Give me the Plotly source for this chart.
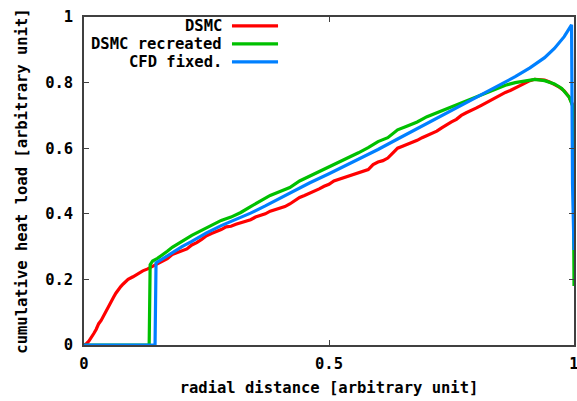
import plotly.graph_objects as go

# ---- data ----
red_x = [0.000, 0.005, 0.010, 0.015, 0.020, 0.025, 0.030, 0.035, 0.040, 0.045,
         0.050, 0.055, 0.060, 0.065, 0.070, 0.075, 0.080, 0.090, 0.100, 0.110,
         0.120, 0.130, 0.140, 0.150, 0.160, 0.170, 0.180, 0.190, 0.200, 0.210,
         0.220, 0.230, 0.240, 0.250, 0.260, 0.270, 0.280, 0.290, 0.300, 0.310,
         0.320, 0.330, 0.340, 0.350, 0.360, 0.370, 0.380, 0.390, 0.400, 0.410,
         0.420, 0.430, 0.440, 0.450, 0.460, 0.470, 0.480, 0.490, 0.500, 0.510,
         0.520, 0.530, 0.540, 0.550, 0.560, 0.570, 0.580, 0.590, 0.600, 0.610,
         0.620, 0.630, 0.640, 0.650, 0.660, 0.670, 0.680, 0.690, 0.700, 0.710,
         0.720, 0.730, 0.740, 0.750, 0.760, 0.770, 0.780, 0.790, 0.800, 0.810,
         0.820, 0.830, 0.840, 0.850, 0.860, 0.870, 0.880, 0.890, 0.900, 0.910,
         0.920, 0.930, 0.940, 0.950, 0.960, 0.970, 0.980, 0.990, 0.998]
red_y = [0.000, 0.004, 0.012, 0.022, 0.035, 0.048, 0.065, 0.075, 0.090, 0.102,
         0.118, 0.130, 0.145, 0.158, 0.170, 0.178, 0.186, 0.200, 0.208, 0.218,
         0.226, 0.232, 0.240, 0.247, 0.254, 0.263, 0.276, 0.282, 0.288, 0.293,
         0.305, 0.312, 0.322, 0.333, 0.340, 0.345, 0.352, 0.360, 0.362, 0.368,
         0.372, 0.378, 0.382, 0.390, 0.394, 0.400, 0.408, 0.412, 0.418, 0.422,
         0.430, 0.440, 0.450, 0.456, 0.462, 0.470, 0.476, 0.484, 0.490, 0.500,
         0.505, 0.510, 0.514, 0.520, 0.524, 0.530, 0.535, 0.550, 0.558, 0.562,
         0.570, 0.585, 0.600, 0.606, 0.612, 0.616, 0.624, 0.632, 0.638, 0.646,
         0.652, 0.662, 0.672, 0.680, 0.688, 0.700, 0.708, 0.714, 0.722, 0.730,
         0.738, 0.748, 0.755, 0.762, 0.770, 0.776, 0.784, 0.792, 0.800, 0.806,
         0.810, 0.810, 0.808, 0.802, 0.795, 0.786, 0.775, 0.756, 0.730]

green_x = [0.000, 0.133, 0.135, 0.14, 0.15, 0.16, 0.17, 0.18, 0.19, 0.20, 0.22,
           0.24, 0.26, 0.28, 0.30, 0.32, 0.34, 0.36, 0.38, 0.40, 0.42, 0.44,
           0.46, 0.48, 0.50, 0.52, 0.54, 0.56, 0.58, 0.60, 0.62, 0.64, 0.66,
           0.68, 0.70, 0.72, 0.74, 0.76, 0.78, 0.80, 0.82, 0.84, 0.86, 0.88,
           0.90, 0.92, 0.94, 0.96, 0.975, 0.99, 0.998, 1.0]
green_y = [0.000, 0.000, 0.245, 0.256, 0.264, 0.274, 0.286, 0.298, 0.306, 0.316, 0.334,
           0.350, 0.366, 0.380, 0.390, 0.404, 0.422, 0.440, 0.456, 0.468, 0.480, 0.500,
           0.514, 0.530, 0.542, 0.556, 0.570, 0.586, 0.602, 0.620, 0.632, 0.656, 0.668,
           0.680, 0.696, 0.708, 0.722, 0.734, 0.746, 0.756, 0.768, 0.782, 0.792, 0.800,
           0.806, 0.810, 0.806, 0.796, 0.782, 0.756, 0.726, 0.180]

blue_x = [0.000, 0.145, 0.147, 0.16, 0.18, 0.20, 0.22, 0.25, 0.28, 0.31, 0.34,
          0.37, 0.40, 0.43, 0.46, 0.50, 0.53, 0.56, 0.60, 0.64, 0.68, 0.72,
          0.76, 0.80, 0.84, 0.88, 0.91, 0.94, 0.96, 0.98, 0.995, 0.997, 1.0]
blue_y = [0.000, 0.000, 0.250, 0.262, 0.282, 0.300, 0.316, 0.342, 0.364, 0.382, 0.402,
          0.424, 0.448, 0.472, 0.494, 0.522, 0.544, 0.566, 0.596, 0.628, 0.660, 0.690,
          0.724, 0.756, 0.786, 0.818, 0.845, 0.876, 0.904, 0.940, 0.976, 0.490, 0.290]

series_names = ["DSMC", "DSMC recreated", "CFD fixed."]
series_colors = ["#ff0000", "#00c000", "#0080ff"]
x_ticks = [0, 0.5, 1]
x_tick_labels = ["0", "0.5", "1"]
y_ticks = [0, 0.2, 0.4, 0.6, 0.8, 1]
y_tick_labels = ["0", "0.2", "0.4", "0.6", "0.8", "1"]

FONT = "DejaVu Sans Mono"
fsize = 15.5
border = "#404040"

fig = go.Figure()
for xs, ys, name, col in zip([red_x, green_x, blue_x], [red_y, green_y, blue_y],
                             series_names, series_colors):
    fig.add_trace(go.Scatter(x=xs, y=ys, mode="lines", name=name,
                             line=dict(color=col, width=3.2), showlegend=False))

# manual gnuplot-style legend (text right-aligned, sample to the right)
legend_y = [0.973, 0.918, 0.863]
annotations = []
shapes = []
for name, col, ly in zip(series_names, series_colors, legend_y):
    annotations.append(dict(x=0.286, y=ly, xref="paper", yref="paper",
                            text="<b>" + name + "</b>", showarrow=False,
                            xanchor="right", yanchor="middle",
                            font=dict(family=FONT, size=fsize, color="black")))
    shapes.append(dict(type="line", xref="paper", yref="paper",
                       x0=0.302, x1=0.396, y0=ly, y1=ly,
                       line=dict(color=col, width=3.2)))

axis_common = dict(
    showgrid=False, zeroline=False, showline=True, linecolor=border, linewidth=1.5,
    mirror="ticks", ticks="inside", ticklen=5, tickwidth=1, tickcolor=border,
    tickfont=dict(family=FONT, size=fsize, color="black", weight="bold"),
    ticklabeloverflow="allow", automargin=False,
)

fig.update_layout(
    width=577, height=401,
    margin=dict(l=84, r=3, t=17, b=56),
    paper_bgcolor="white", plot_bgcolor="white",
    xaxis=dict(range=[0, 1], tickvals=x_ticks, ticktext=x_tick_labels,
               title=dict(text="<b>radial distance [arbitrary unit]</b>",
                          font=dict(family=FONT, size=fsize, color="black"), standoff=10),
               ticklabelstandoff=4,
               **axis_common),
    yaxis=dict(range=[0, 1], tickvals=y_ticks, ticktext=y_tick_labels,
               title=dict(text="<b>cumulative heat load [arbitrary unit]</b>",
                          font=dict(family=FONT, size=fsize, color="black"), standoff=14),
               ticklabelstandoff=6,
               **axis_common),
    annotations=annotations, shapes=shapes,
    showlegend=False,
)

fig.write_html("out.html", config={"displayModeBar": False},
               post_script="document.body.style.margin='0';document.body.style.overflow='hidden';")
